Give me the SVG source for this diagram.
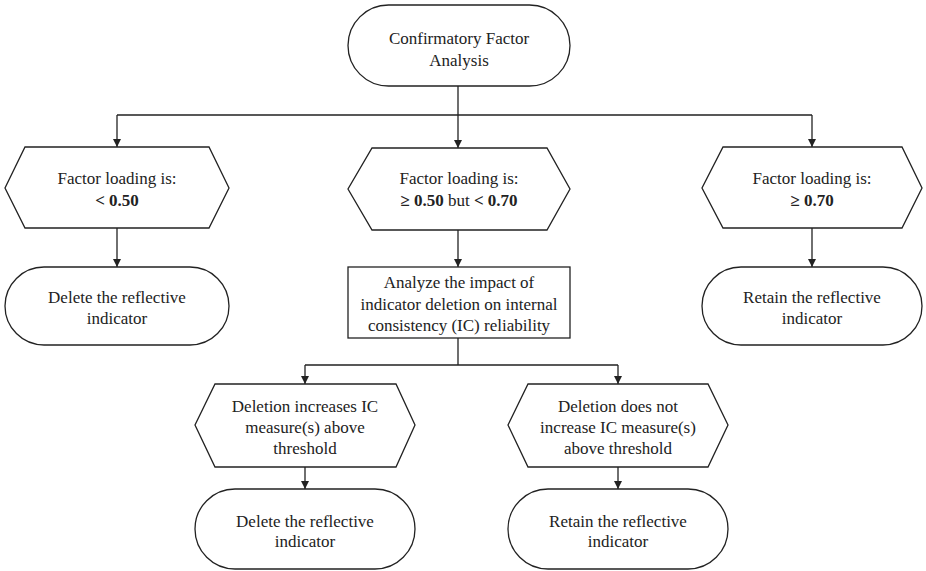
<svg xmlns="http://www.w3.org/2000/svg" width="926" height="571" viewBox="0 0 926 571">
  <defs>
    <marker id="arrow" viewBox="0 0 10 10" refX="10" refY="5" markerWidth="8" markerHeight="8" markerUnits="userSpaceOnUse" orient="auto">
      <path d="M0,0 L10,5 L0,10 Z" fill="#222"/>
    </marker>
    <style>
      .shape { fill: #fff; stroke: #222; stroke-width: 1.3; }
      .conn { fill: none; stroke: #222; stroke-width: 1.3; }
      .arr { marker-end: url(#arrow); }
      text { font-family: "Liberation Serif", "Times New Roman", "DejaVu Serif", serif; font-size: 17px; fill: #222; text-anchor: middle; }
      .b { font-weight: bold; }
    </style>
  </defs>
  <rect width="926" height="571" fill="#fff"/>

  <g id="connectors">
    <path class="conn" d="M458,86 V115 M117,115 H812"/>
    <path class="conn arr" d="M117,115 V147"/>
    <path class="conn arr" d="M458,115 V148"/>
    <path class="conn arr" d="M812,115 V147"/>
    <path class="conn arr" d="M117,228 V267"/>
    <path class="conn arr" d="M458,230 V267"/>
    <path class="conn arr" d="M812,228 V267"/>
    <path class="conn" d="M458,338 V365 M305,365 H618"/>
    <path class="conn arr" d="M305,365 V384"/>
    <path class="conn arr" d="M618,365 V384"/>
    <path class="conn arr" d="M305,467 V489"/>
    <path class="conn arr" d="M618,467 V489"/>
  </g>

  <g id="cfa">
    <rect class="shape" x="348" y="5" width="222" height="81" rx="40.5" ry="40.5"/>
    <text x="459" y="44">Confirmatory Factor</text>
    <text x="459" y="66">Analysis</text>
  </g>

  <g id="fl-low">
    <polygon class="shape" points="25,147 209,147 229,188 209,228 25,228 5,188"/>
    <text x="117" y="184">Factor loading is:</text>
    <text x="117" y="206" class="b">&lt; 0.50</text>
  </g>

  <g id="fl-mid">
    <polygon class="shape" points="372,148 547,148 570,189 547,230 372,230 348,189"/>
    <text x="459" y="184">Factor loading is:</text>
    <text x="459" y="206"><tspan class="b">≥ 0.50</tspan> but <tspan class="b">&lt; 0.70</tspan></text>
  </g>

  <g id="fl-high">
    <polygon class="shape" points="723,147 902,147 922,188 902,228 723,228 702,188"/>
    <text x="812" y="184">Factor loading is:</text>
    <text x="812" y="206" class="b">≥ 0.70</text>
  </g>

  <g id="delete-1">
    <rect class="shape" x="5" y="267" width="224" height="78" rx="39" ry="39"/>
    <text x="117" y="303">Delete the reflective</text>
    <text x="117" y="324">indicator</text>
  </g>

  <g id="analyze">
    <rect class="shape" x="348" y="267" width="222" height="71"/>
    <text x="459" y="288">Analyze the impact of</text>
    <text x="459" y="310">indicator deletion on internal</text>
    <text x="459" y="331">consistency (IC) reliability</text>
  </g>

  <g id="retain-1">
    <rect class="shape" x="702" y="267" width="220" height="78" rx="39" ry="39"/>
    <text x="812" y="303">Retain the reflective</text>
    <text x="812" y="324">indicator</text>
  </g>

  <g id="ic-up">
    <polygon class="shape" points="215,384 396,384 415,425 396,467 215,467 195,425"/>
    <text x="305" y="412">Deletion increases IC</text>
    <text x="305" y="433">measure(s) above</text>
    <text x="305" y="454">threshold</text>
  </g>

  <g id="ic-not">
    <polygon class="shape" points="528,384 708,384 728,425 708,467 528,467 508,425"/>
    <text x="618" y="412">Deletion does not</text>
    <text x="618" y="433">increase IC measure(s)</text>
    <text x="618" y="454">above threshold</text>
  </g>

  <g id="delete-2">
    <rect class="shape" x="195" y="489" width="220" height="80" rx="40" ry="40"/>
    <text x="305" y="527">Delete the reflective</text>
    <text x="305" y="547">indicator</text>
  </g>

  <g id="retain-2">
    <rect class="shape" x="508" y="489" width="220" height="80" rx="40" ry="40"/>
    <text x="618" y="527">Retain the reflective</text>
    <text x="618" y="547">indicator</text>
  </g>
</svg>
